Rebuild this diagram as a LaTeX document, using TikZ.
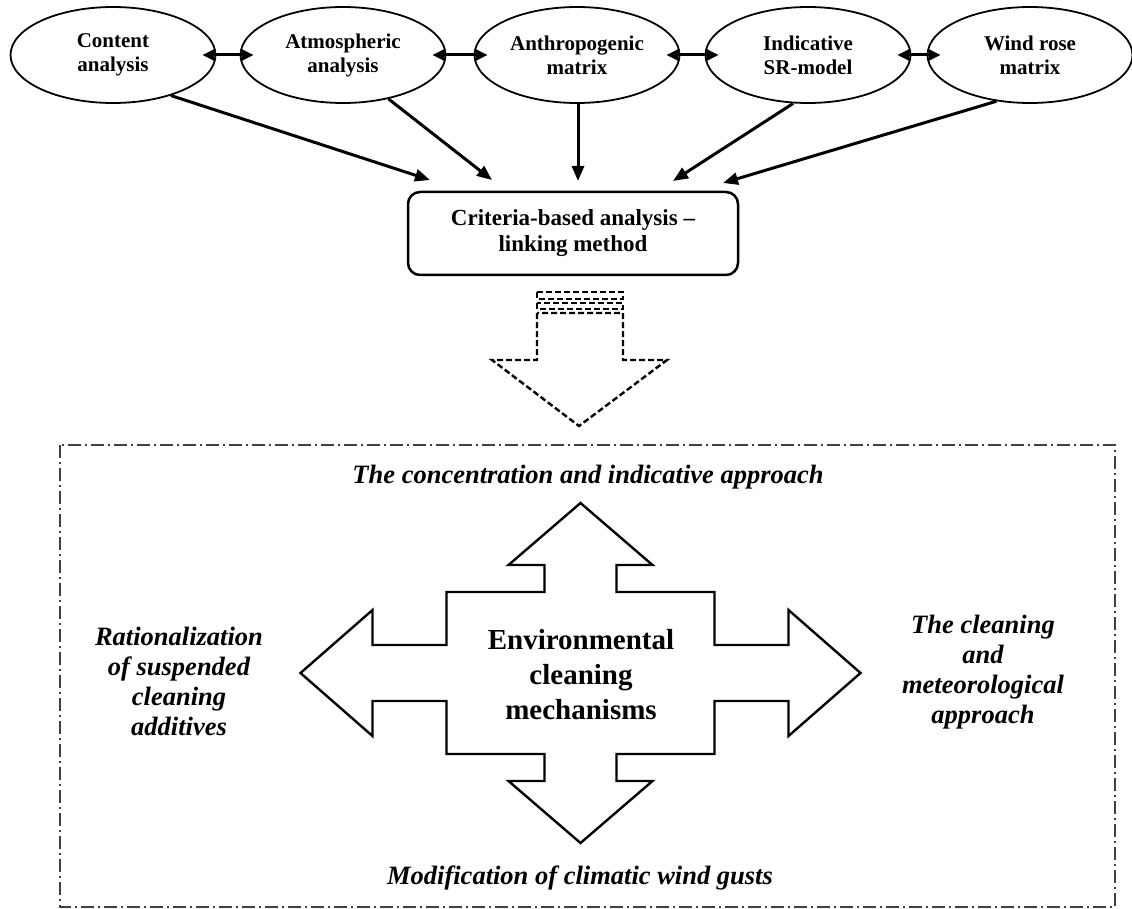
\documentclass[tikz,border=0pt]{standalone}
\usepackage{fontspec}
\setmainfont{Liberation Serif}
\usetikzlibrary{shapes.geometric,arrows.meta}
\tikzset{
  ell/.style={draw, ellipse, line width=1.8pt, minimum width=205pt, minimum height=96pt,
    inner sep=0pt, align=center, font=\fontsize{21}{24}\selectfont\bfseries},
  link/.style={line width=3pt, -{Triangle[length=15pt,width=12pt]}},
  dbl/.style={line width=3pt, {Triangle[length=12pt,width=11pt]}-{Triangle[length=12pt,width=11pt]},
    shorten <=-14pt, shorten >=-14pt},
  critbox/.style={draw, rounded corners=12pt, line width=2.5pt, minimum width=330pt,
    minimum height=83pt, align=center, font=\fontsize{23}{26}\selectfont\bfseries},
  dsh/.style={line width=2.4pt, dash pattern=on 6pt off 3pt},
  framebox/.style={draw=black!75, line width=1.6pt, dash pattern=on 13pt off 4pt on 2pt off 4pt},
  crossline/.style={draw, line width=2.4pt, line join=miter},
  envtext/.style={align=center, font=\fontsize{29}{35}\selectfont\bfseries},
  lab/.style={align=center, font=\fontsize{26.5}{30}\selectfont\bfseries\itshape}
}
\begin{document}
\begin{tikzpicture}[x=1pt,y=-1pt]
\useasboundingbox (0,0) rectangle (1132,909);

% top row
\node[ell] (c1) at (113,55) {Content\\analysis};
\node[ell] (c2) at (343,55) {Atmospheric\\analysis};
\node[ell] (c3) at (577,55) {Anthropogenic\\matrix};
\node[ell] (c4) at (808,55) {Indicative\\SR-model};
\node[ell] (c5) at (1030,55) {Wind rose\\matrix};

\draw[dbl] (c1.east) -- (c2.west);
\draw[dbl] (c2.east) -- (c3.west);
\draw[dbl] (c3.east) -- (c4.west);
\draw[dbl] (c4.east) -- (c5.west);

% criteria box
\node[critbox] (crit) at (573,233.5) {Criteria-based analysis --\\linking method};

\coordinate (t1) at (430,180);
\coordinate (t2) at (492,180);
\coordinate (t3) at (578,181);
\coordinate (t4) at (673,181);
\coordinate (t5) at (723,183);

\draw[link] (c1.-35) -- (t1);
\draw[link] (c2.-44) -- (t2);
\draw[link] (t3 |- c3.south) -- (t3);
\draw[link] (c4.-107) -- (t4);
\draw[link] (c5.-126) -- (t5);

% dashed block arrow
\draw[dsh] (537,292) rectangle (623,299);
\draw[dsh] (537,303) rectangle (623,309);
\draw[dsh] (537,313) -- (537,360) -- (492,360) -- (579,426) -- (667,360) -- (623,360) -- (623,313) -- cycle;

% frame
\draw[framebox] (60,445) rectangle (1115,907);

% cross arrow
\begin{scope}[shift={(580.5,673)}]
\draw[crossline] (0,-170) -- (72,-108) -- (36,-108) -- (36,-81) -- (134,-81) -- (134,-28)
  -- (208,-28) -- (208,-63) -- (280,0) -- (208,63) -- (208,28) -- (134,28) -- (134,81)
  -- (36,81) -- (36,108) -- (72,108) -- (0,170) -- (-72,108) -- (-36,108) -- (-36,81)
  -- (-134,81) -- (-134,28) -- (-208,28) -- (-208,63) -- (-280,0) -- (-208,-63)
  -- (-208,-28) -- (-134,-28) -- (-134,-81) -- (-36,-81) -- (-36,-108) -- (-72,-108) -- cycle;
\end{scope}

\node[envtext] (env) at (581,675) {Environmental\\cleaning\\mechanisms};
\node[lab] (ltop) at (588,477) {The concentration and indicative approach};
\node[lab] (lbot) at (580,878) {Modification of climatic wind gusts};
\node[lab] (lleft) at (179,681) {Rationalization\\of suspended\\cleaning\\additives};
\node[lab] (lright) at (983,672) {The cleaning\\and\\meteorological\\approach};
\end{tikzpicture}
\end{document}
